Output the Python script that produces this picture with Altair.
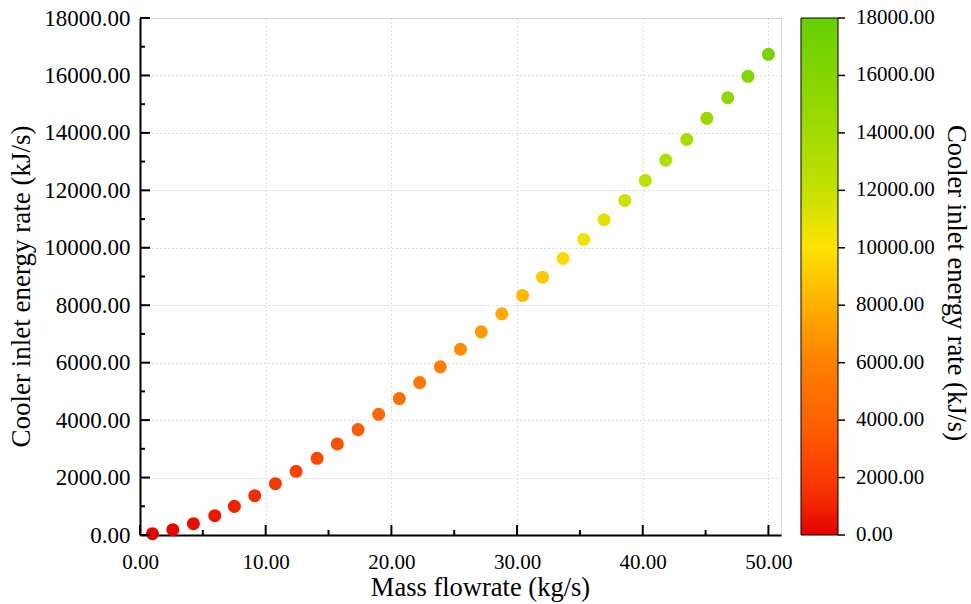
import altair as alt
import pandas as pd

# ---- data ----
mass_flow = [0.99, 2.61, 4.25, 5.95, 7.51, 9.13, 10.77, 12.42, 14.09, 15.70, 17.35,
             18.99, 20.63, 22.25, 23.89, 25.50, 27.15, 28.79, 30.44, 32.03, 33.66,
             35.30, 36.92, 38.57, 40.20, 41.83, 43.50, 45.10, 46.76, 48.37, 50.00]
energy_rate = [45, 185, 394, 672, 997, 1369, 1787, 2216, 2669, 3171, 3669,
               4202, 4749, 5307, 5854, 6467, 7073, 7700, 8340, 8976, 9627,
               10289, 10976, 11648, 12345, 13052, 13773, 14505, 15226, 15969, 16735]

x_major_ticks = [0, 10, 20, 30, 40, 50]
x_minor_ticks = [5, 15, 25, 35, 45]
y_major_ticks = [0, 2000, 4000, 6000, 8000, 10000, 12000, 14000, 16000, 18000]
y_minor_ticks = [1000, 3000, 5000, 7000, 9000, 11000, 13000, 15000, 17000]

color_stops = [0, 1000, 2000, 4000, 6000, 8000, 10000, 12000, 14000, 16000, 18000]
color_range = ["#e60000", "#f02400", "#f83c00", "#ff6200", "#ff8000", "#ffb000",
               "#ffe200", "#c4e000", "#a2da00", "#84d400", "#66d000"]

colorbar_title = ["Cooler inlet energy rate (kJ/s)"]

FONT = "Liberation Serif"
W, H = 641, 517

df = pd.DataFrame({"flow": mass_flow, "energy": energy_rate})
ticks_df = pd.DataFrame({"v": y_major_ticks})

x_scale = alt.Scale(domain=[0, 51], nice=False, zero=False)
y_scale = alt.Scale(domain=[0, 18000], nice=False)

points = alt.Chart(df).mark_circle(size=170, opacity=1).encode(
    x=alt.X("flow:Q", scale=x_scale,
            axis=alt.Axis(values=x_major_ticks, format=".2f", title="Mass flowrate (kg/s)",
                          ticks=False, grid=True, gridDash=[1, 3], gridColor="#bdbdbd",
                          gridWidth=1, domainColor="black", domainWidth=2,
                          labelFont=FONT, labelFontSize=21, labelColor="black",
                          labelPadding=16, labelFlush=False,
                          titleFont=FONT, titleFontSize=26.5, titleFontWeight="normal",
                          titleColor="black", titleX=340, titleY=60,
                          titleBaseline="alphabetic")),
    y=alt.Y("energy:Q", scale=y_scale,
            axis=alt.Axis(values=y_major_ticks, format=".2f",
                          title="Cooler inlet energy rate (kJ/s)",
                          ticks=False, grid=True, gridDash=[1, 3], gridColor="#bdbdbd",
                          gridWidth=1, domainColor="black", domainWidth=2,
                          labelFont=FONT, labelFontSize=23, labelColor="black",
                          labelPadding=10, labelFlush=False,
                          titleFont=FONT, titleFontSize=27, titleFontWeight="normal",
                          titleColor="black", titleX=-111, titleY=268,
                          titleBaseline="alphabetic")),
    color=alt.Color("energy:Q",
                    scale=alt.Scale(domain=color_stops, range=color_range, interpolate="rgb"),
                    legend=alt.Legend(orient="none", legendX=661, legendY=0,
                                      direction="vertical", gradientLength=H,
                                      gradientThickness=37, gradientStrokeColor="black",
                                      gradientStrokeWidth=1, values=y_major_ticks,
                                      labelOpacity=0, labelFontSize=1,
                                      title=None)),
)

# inward major/minor ticks (positions via the chart scales)
ym = alt.Chart(pd.DataFrame({"v": y_major_ticks})).mark_rule(color="black", strokeWidth=2).encode(
    y=alt.Y("v:Q", scale=y_scale), x=alt.value(0), x2=alt.value(10))
yn = alt.Chart(pd.DataFrame({"v": y_minor_ticks})).mark_rule(color="black", strokeWidth=2).encode(
    y=alt.Y("v:Q", scale=y_scale), x=alt.value(0), x2=alt.value(5))
xm = alt.Chart(pd.DataFrame({"v": x_major_ticks})).mark_rule(color="black", strokeWidth=2).encode(
    x=alt.X("v:Q", scale=x_scale), y=alt.value(H), y2=alt.value(H - 10))
xn = alt.Chart(pd.DataFrame({"v": x_minor_ticks})).mark_rule(color="black", strokeWidth=2).encode(
    x=alt.X("v:Q", scale=x_scale), y=alt.value(H), y2=alt.value(H - 5))

# colorbar tick marks and labels (colorbar spans the same value range as the y scale)
cb = alt.Chart(ticks_df).mark_rule(color="black", strokeWidth=1.5).encode(
    y=alt.Y("v:Q", scale=y_scale), x=alt.value(698), x2=alt.value(705))
cb_labels = alt.Chart(ticks_df).mark_text(
    font=FONT, fontSize=21, color="black", align="left", baseline="middle"
).encode(y=alt.Y("v:Q", scale=y_scale), x=alt.value(716),
         text=alt.Text("v:Q", format=".2f"))

cb_title = alt.Chart(pd.DataFrame({"t": colorbar_title})).mark_text(
    angle=90, font=FONT, fontSize=26.5, color="black", align="center", baseline="middle"
).encode(text="t:N", x=alt.value(816), y=alt.value(265))

chart = alt.layer(points, ym, yn, xm, xn, cb, cb_labels, cb_title).properties(
    width=W, height=H,
    autosize=alt.AutoSizeParams(type="none"),
    padding={"left": 140, "top": 18, "right": 190, "bottom": 69},
).configure_view(stroke="black", strokeWidth=2).configure(background="white")

chart.save("out.html", embed_options={"renderer": "svg", "actions": False})
